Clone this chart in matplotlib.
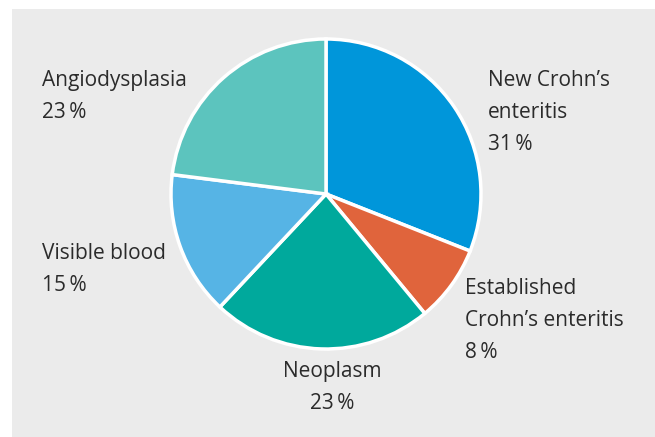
import matplotlib
matplotlib.use("Agg")
import matplotlib.pyplot as plt
from matplotlib.patches import Rectangle

# data
labels = ["New Crohn\u2019s\nenteritis", "Established\nCrohn\u2019s enteritis",
          "Neoplasm", "Visible blood", "Angiodysplasia"]
shares = [31, 8, 23, 15, 23]
colors = ["#0096da", "#e0643c", "#00a99c", "#56b4e5", "#5cc4be"]

# label anchors in pixels (x, top y) and alignment
label_pos = [(488, 70, "left"), (465, 278, "left"), (332, 361, "center"),
             (42, 243, "left"), (42, 70, "left")]

W, H = 655, 437
plt.rcParams["font.family"] = ["Open Sans", "DejaVu Sans"]

fig = plt.figure(figsize=(W / 100, H / 100), dpi=100)
fig.patch.set_facecolor("white")
fig.add_artist(Rectangle((12 / W, 0), 1, 1 - 9 / H, transform=fig.transFigure,
                         facecolor="#ebebeb", edgecolor="none", zorder=0))

# pie: center (326, 194), radius 155 px
cx, cy, r = 326, 194, 155
ax = fig.add_axes([(cx - r) / W, (H - cy - r) / H, 2 * r / W, 2 * r / H])
ax.pie(shares, colors=colors, startangle=90, counterclock=False, radius=1,
       wedgeprops=dict(edgecolor="white", linewidth=2.5))
ax.set_xlim(-1, 1)
ax.set_ylim(-1, 1)
ax.set_aspect("equal")
ax.axis("off")

for lab, val, (x, y, ha) in zip(labels, shares, label_pos):
    fig.text(x / W, 1 - y / H, f"{lab}\n{val}\u2009%", ha=ha, va="top",
             fontsize=15, color="#2b2b2b", linespacing=1.7,
             multialignment=ha)

fig.savefig("out.png", dpi=100)
